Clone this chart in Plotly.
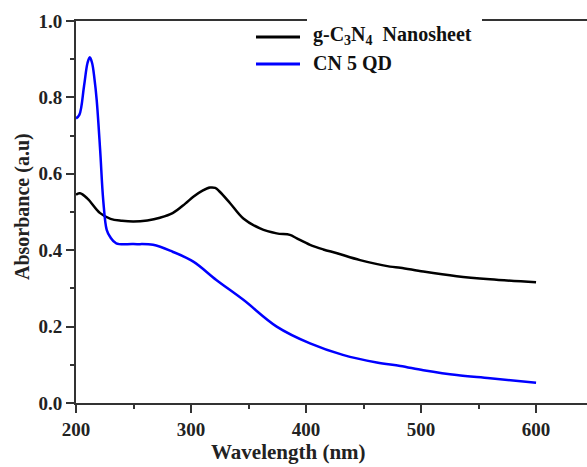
import plotly.graph_objects as go

# g-C3N4 nanosheet absorbance
wl_ns = [200, 203.5, 210, 221, 230, 240, 250, 262, 273, 284, 295, 302, 310, 316.5, 321, 325, 334, 345.5,
         360, 374.5, 386, 392, 403.5, 415, 427, 447, 473, 482, 502, 531, 560, 600]
abs_ns = [0.545, 0.549, 0.535, 0.497, 0.482, 0.477, 0.475, 0.478, 0.485, 0.497, 0.522, 0.540, 0.556, 0.564, 0.563,
          0.553, 0.523, 0.483, 0.457, 0.444, 0.440, 0.431, 0.414, 0.402, 0.392, 0.374, 0.357, 0.354, 0.344,
          0.332, 0.324, 0.316]

# CN 5 QD absorbance
wl_qd = [200, 203, 207, 210, 212, 214, 216, 218, 221, 223.7, 226.7, 229.6, 235, 250, 267, 284, 302, 322,
         345.5, 374.5, 403.5, 432, 461.5, 482, 502, 531, 560, 600]
abs_qd = [0.745, 0.755, 0.83, 0.89, 0.905, 0.89, 0.85, 0.793, 0.662, 0.53, 0.453, 0.435, 0.418, 0.416, 0.414,
          0.396, 0.370, 0.322, 0.270, 0.200, 0.156, 0.126, 0.106, 0.097, 0.086, 0.073, 0.065, 0.053]

x_ticks = [200, 300, 400, 500, 600]
y_ticks = [0.0, 0.2, 0.4, 0.6, 0.8, 1.0]

names = ["<b>g-C<sub>3</sub>N<sub>4</sub>  Nanosheet</b>", "<b>CN 5 QD</b>"]
colors = ["black", "#0000ff"]

FONT = "Liberation Serif"
L, R, T, B, W, H = 76, 0, 21, 64, 587, 467
PW, PH = W - L - R, H - T - B


def px_x(p):
    return (p - L) / PW


def px_y(p):
    return (H - B - p) / PH


fig = go.Figure()
fig.add_trace(go.Scatter(x=wl_ns, y=abs_ns, mode="lines", line=dict(color=colors[0], width=2.5, shape="spline"),
                         name=names[0], showlegend=False))
fig.add_trace(go.Scatter(x=wl_qd, y=abs_qd, mode="lines", line=dict(color=colors[1], width=2.5, shape="spline"),
                         name=names[1], showlegend=False))

axis_common = dict(showline=True, linecolor="#333333", linewidth=2, showgrid=False, zeroline=False,
                   ticks="outside", ticklen=8, tickwidth=1.5, tickcolor="#333333",
                   tickfont=dict(family=FONT, size=19, color="#222222"))

fig.update_xaxes(range=[200, 644.3], tickvals=x_ticks, ticktext=[f"<b>{v}</b>" for v in x_ticks],
                 minor=dict(dtick=50, ticks="outside", ticklen=4, tickwidth=1.5, tickcolor="#333333"),
                 mirror=True, **axis_common)
fig.update_yaxes(range=[0, 1.0], tickvals=y_ticks, ticktext=[f"<b>{v:.1f}</b>" for v in y_ticks],
                 minor=dict(dtick=0.1, ticks="outside", ticklen=4, tickwidth=1.5, tickcolor="#333333"),
                 **axis_common)

fig.add_annotation(text="<b>Wavelength (nm)</b>", xref="paper", yref="paper", x=px_x(288), y=0,
                   yanchor="middle", yshift=-49, showarrow=False, font=dict(family=FONT, size=21, color="#222222"))
fig.add_annotation(text="<b>Absorbance (a.u)</b>", xref="paper", yref="paper", x=px_x(22),
                   y=px_y(207), xanchor="center", yanchor="middle", textangle=-90, showarrow=False,
                   font=dict(family=FONT, size=20, color="#222222"))

# legend box (white, covers part of top frame line)
fig.add_shape(type="rect", xref="paper", yref="paper", x0=px_x(307), x1=px_x(482), y0=px_y(50), y1=px_y(12),
              fillcolor="white", line=dict(width=0), layer="above")
for i, (nm, c) in enumerate(zip(names, colors)):
    yc = 37 + 27 * i
    fig.add_shape(type="line", xref="paper", yref="paper", x0=px_x(256), x1=px_x(300), y0=px_y(yc), y1=px_y(yc),
                  line=dict(color=c, width=3), layer="above")
    fig.add_annotation(text=nm, xref="paper", yref="paper", x=px_x(311), y=px_y(yc - 1), xanchor="left",
                       yanchor="middle", showarrow=False, font=dict(family=FONT, size=20, color="#111111"))

fig.update_layout(
    width=W, height=H, margin=dict(l=L, r=R, t=T, b=B),
    paper_bgcolor="white", plot_bgcolor="white", showlegend=False,
)

fig.write_html("out.html")
